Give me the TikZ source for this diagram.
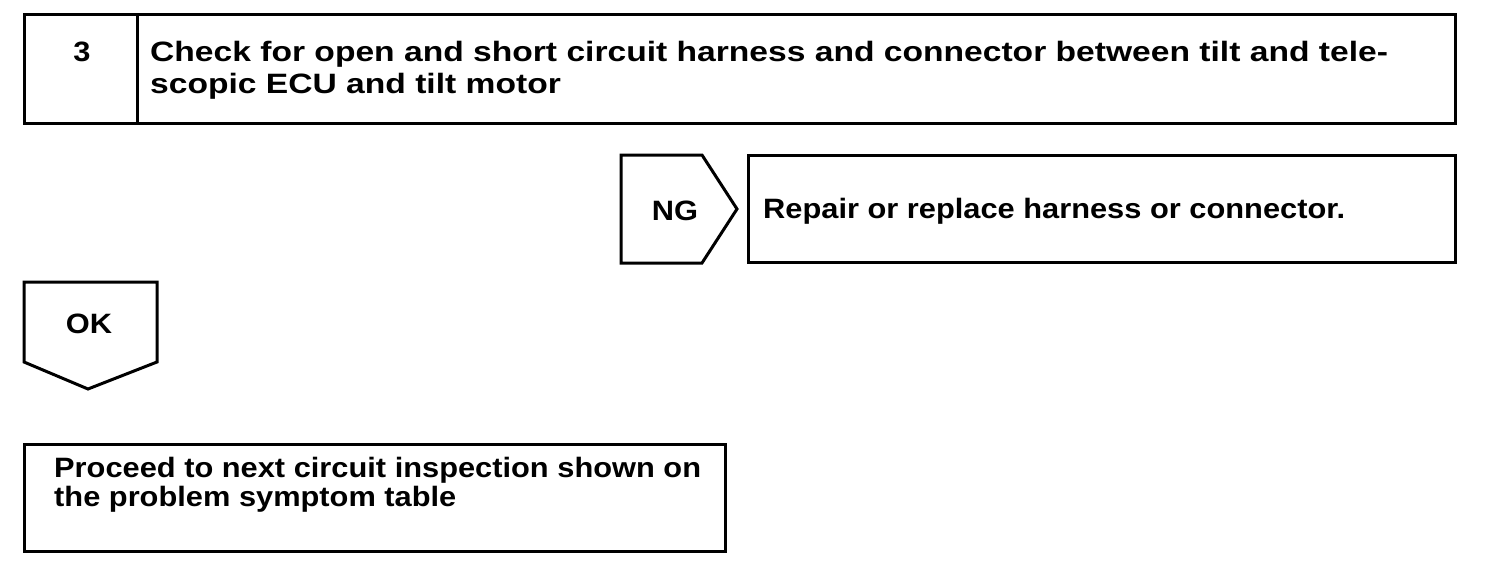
\documentclass[tikz,border=0pt]{standalone}
\usepackage{fontspec}
\setmainfont{Liberation Sans}
\newcommand{\wideA}[1]{\scalebox{1.2}[1]{#1}}
\newcommand{\wideB}[1]{\scalebox{1.1}[1]{#1}}
\begin{document}
\begin{tikzpicture}[x=1pt,y=-1pt,
  box/.style={draw=black,line width=3pt,line join=miter},
  txt/.style={font=\fontsize{28}{31}\selectfont\bfseries,inner sep=0pt}]
\useasboundingbox (0,0) rectangle (1504,586);
% top box
\draw[box] (24,15) rectangle (1455,123);
\draw[box] (137,15) -- (137,123);
\node[txt,anchor=base] (num) at (82,62) {\wideB{3}};
\node[txt,anchor=base west] (chk1) at (150,62) {\wideA{Check for open and short circuit harness and connector between tilt and tele-}};
\node[txt,anchor=base west] (chk2) at (150,93) {\wideA{scopic ECU and tilt motor}};
% NG
\draw[box] (621,155) -- (702,155) -- (737,209) -- (702,263) -- (621,263) -- cycle;
\node[txt,anchor=base] (ng) at (675,220) {\wideB{NG}};
\draw[box] (748,155) rectangle (1455,262);
\node[txt,anchor=base west] (rep) at (763,218) {\wideB{Repair or replace harness or connector.}};
% OK
\draw[box] (24,282) -- (157,282) -- (157,362) -- (88,389) -- (24,362) -- cycle;
\node[txt,anchor=base] (ok) at (89,333) {\wideB{OK}};
% bottom
\draw[box] (24,444) rectangle (725,551);
\node[txt,anchor=base west] (proc1) at (54,477) {\wideB{Proceed to next circuit inspection shown on}};
\node[txt,anchor=base west] (proc2) at (54,506) {\wideB{the problem symptom table}};
\end{tikzpicture}
\end{document}
